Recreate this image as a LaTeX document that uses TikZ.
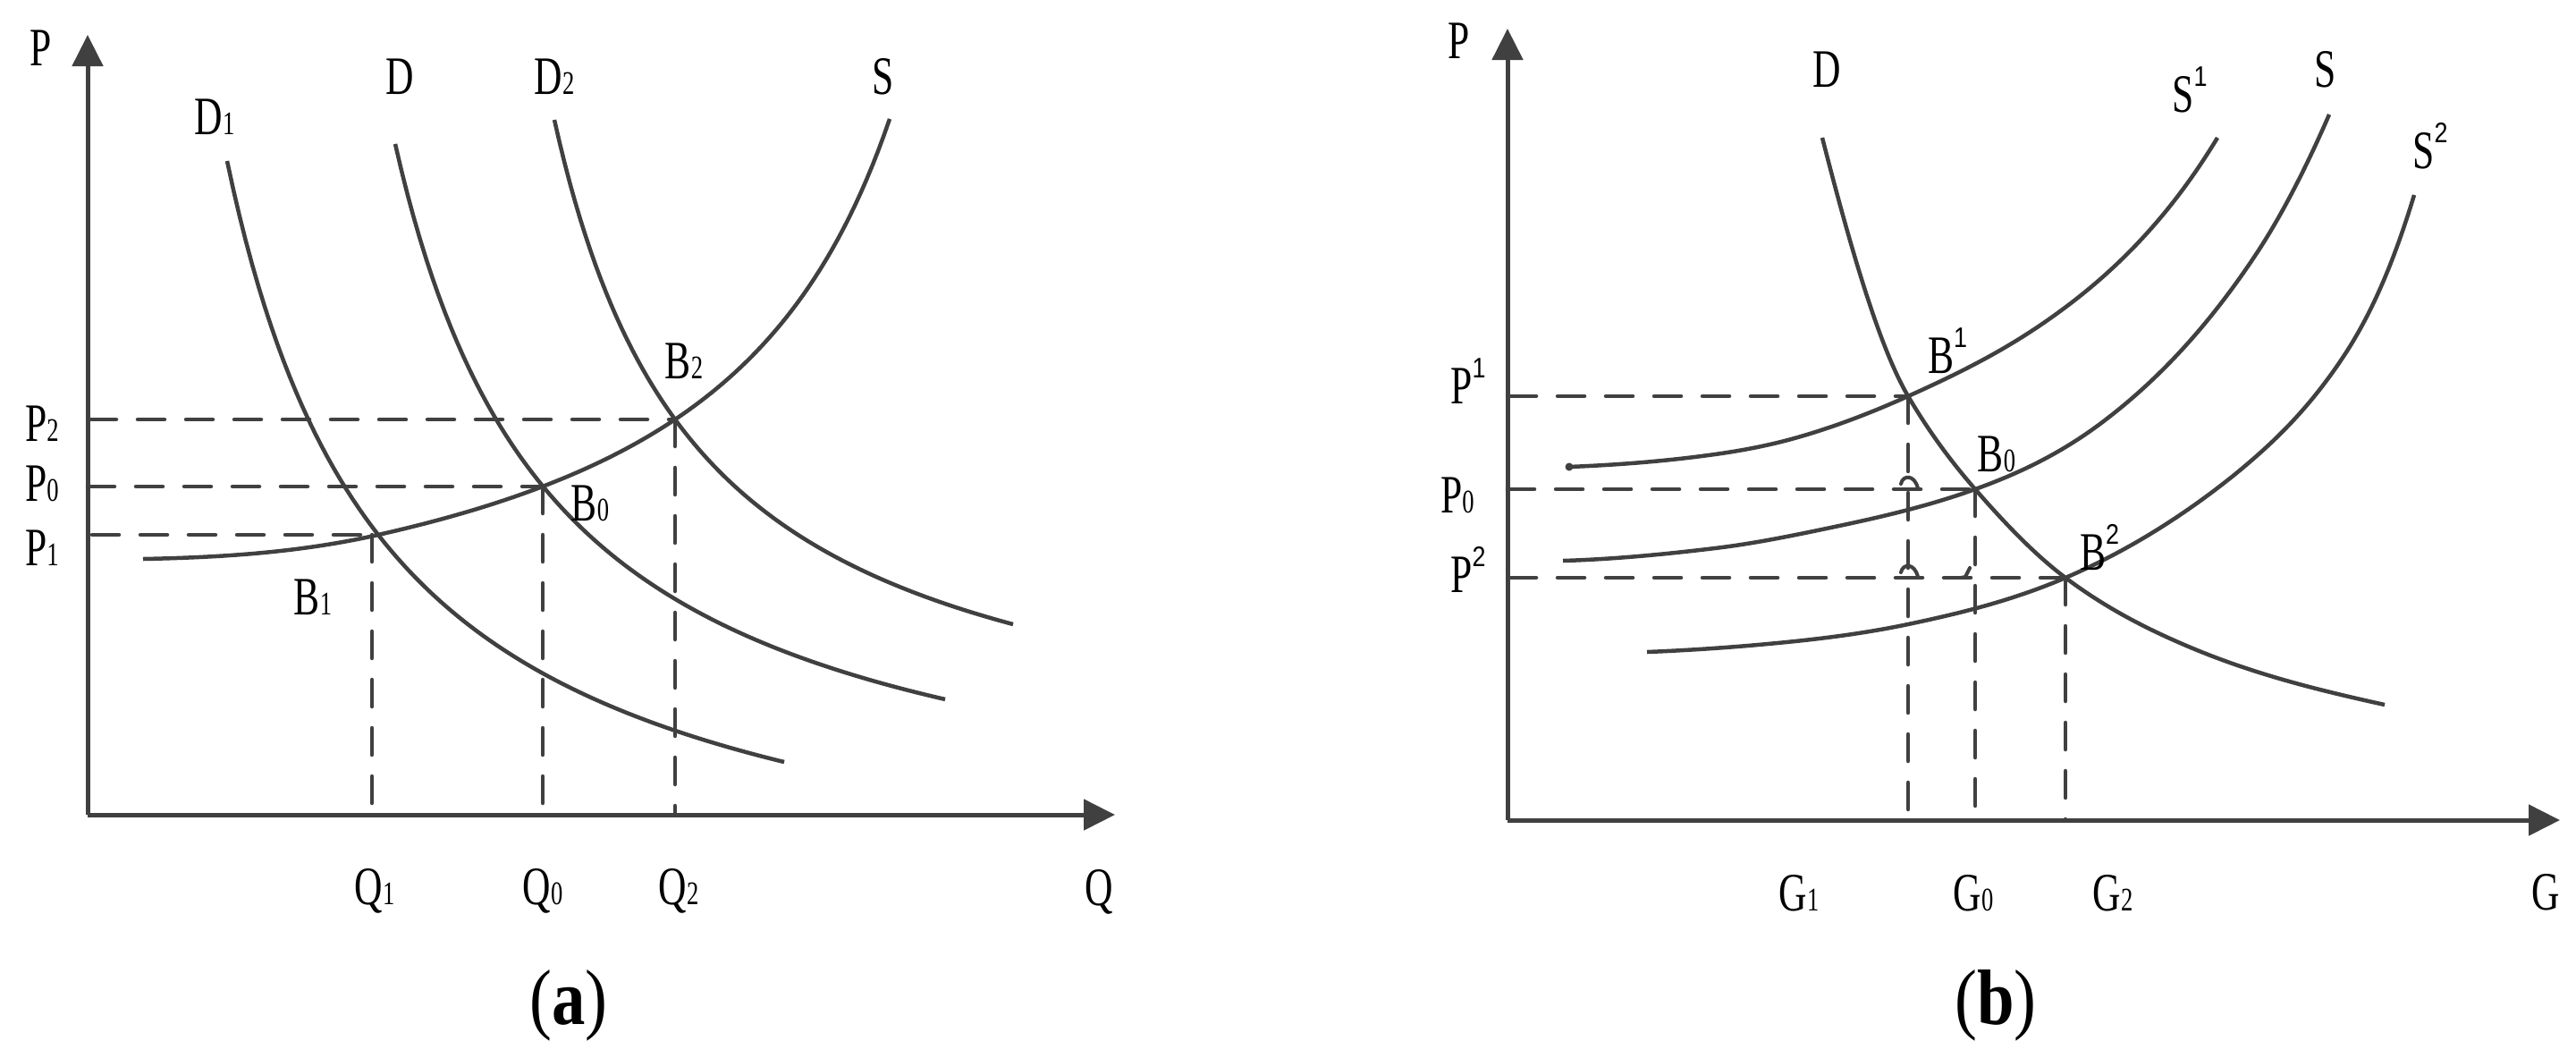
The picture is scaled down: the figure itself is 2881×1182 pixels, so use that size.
\documentclass[tikz,border=0pt]{standalone}
\usepackage{fontspec}
\setmainfont{Liberation Serif}[FakeStretch=0.72]
\newfontfamily\capfont{Liberation Serif}[FakeStretch=0.85]
\newfontfamily\supfont{Liberation Sans}[FakeStretch=0.85]
\usetikzlibrary{arrows.meta}
\definecolor{ln}{HTML}{404040}
\newcommand{\sbd}[1]{{\fontsize{10.5}{12}\selectfont #1}}
\newcommand{\spd}[1]{\raisebox{8pt}{\supfont\fontsize{9}{10}\selectfont #1}}
\begin{document}
\begin{tikzpicture}[x=0.1mm,y=-0.1mm,
  crv/.style={draw=ln,line width=0.45mm},
  axisline/.style={draw=ln,line width=0.5mm,-{Triangle[length=3.5mm,width=3.4mm]}},
  dsh/.style={draw=ln,line width=0.45mm,line cap=round,dash pattern=on 3mm off 2.4mm},
  hook/.style={draw=ln,line width=0.4mm,line cap=round},
  lbl/.style={inner sep=0pt,anchor=base,font=\fontsize{17.2}{20}\selectfont},
  captxt/.style={inner sep=0pt,anchor=base,font=\capfont\fontsize{25}{28}\selectfont}]
\useasboundingbox (0,0) rectangle (2881,1182);

% ---------------- panel (a) ----------------
\coordinate (Oa) at (98,911);
\coordinate (Ya) at (98,39);
\coordinate (Xa) at (1247,911);
\coordinate (aB1) at (423,598);
\coordinate (aB0) at (607,544);
\coordinate (aB2) at (755,469);
\coordinate (aP1) at (103,598);
\coordinate (aP0) at (98,544);
\coordinate (aP2) at (100,469);
\coordinate (aQ1t) at (416,598);
\coordinate (aQ1) at (416,911);
\coordinate (aQ0) at (607,905);
\coordinate (aQ2) at (755,911);

\draw[axisline] (Oa) -- (Ya);
\draw[axisline] (Oa) -- (Xa);

\draw[dsh] (aP2) -- (aB2);
\draw[dsh] (aP0) -- (aB0);
\draw[dsh] (aP1) -- (aQ1t);
\draw[dsh] (aQ1t) -- (aQ1);
\draw[dsh] (aB0) -- (aQ0);
\draw[dsh] (aB2) -- (aQ2);

% supply S
\draw[crv] (160,625) .. controls (247.67,623.25) and (335.33,617.78) .. (aB1)
  -- plot[domain=423:995,samples=90] (\x,{776.6-1414.10/((1214.7-\x)/100)});
% demand D1
\draw[crv] plot[domain=254:877,samples=90] (\x,{1048.4-1581.36/((\x-71.9)/100)});
% demand D
\draw[crv] plot[domain=442:1057,samples=90] (\x,{965.8-1465.62/((\x-259.9)/100)});
% demand D2
\draw[crv] plot[domain=620:1133,samples=90] (\x,{880.2-1236.45/((\x-454.3)/100)});

\node[lbl] (aPl) at (46,73) {P};
\node[lbl] (aQl) at (1229,1012) {Q};
\node[lbl] (aP2l) at (47,493) {P\sbd{2}};
\node[lbl] (aP0l) at (47,560) {P\sbd{0}};
\node[lbl] (aP1l) at (47,632) {P\sbd{1}};
\node[lbl] (aD1l) at (240,150) {D\sbd{1}};
\node[lbl] (aDl) at (447,105) {D};
\node[lbl] (aD2l) at (620,105) {D\sbd{2}};
\node[lbl] (aSl) at (988,105) {S};
\node[lbl] (aB1l) at (350,687) {B\sbd{1}};
\node[lbl] (aB0l) at (660,582) {B\sbd{0}};
\node[lbl] (aB2l) at (765,423) {B\sbd{2}};
\node[lbl] (aQ1l) at (419,1011) {Q\sbd{1}};
\node[lbl] (aQ0l) at (607,1011) {Q\sbd{0}};
\node[lbl] (aQ2l) at (759,1011) {Q\sbd{2}};
\node[captxt] (capa) at (636,1145) {(\textbf{a})};

% ---------------- panel (b) ----------------
\coordinate (Ob) at (1686,917);
\coordinate (Yb) at (1686,32);
\coordinate (Xb) at (2863,917);
\coordinate (bB1) at (2134,443);
\coordinate (bB0) at (2209,547);
\coordinate (bB2) at (2310,646);
\coordinate (bP1) at (1688,443);
\coordinate (bP0) at (1686,547);
\coordinate (bP2) at (1688,646);
\coordinate (bG1) at (2134,917);
\coordinate (bG0) at (2209,905);
\coordinate (bG2) at (2310,917);

\draw[axisline] (Ob) -- (Yb);
\draw[axisline] (Ob) -- (Xb);

\draw[dsh] (bP1) -- (bB1);
\draw[dsh] (bP0) -- (bB0);
\draw[dsh] (bP2) -- (bB2);
\draw[dsh] (bB1) -- (bG1);
\draw[dsh] (bB0) -- (bG0);
\draw[dsh] (bB2) -- (bG2);

% small jump arcs on the dashed lines
\draw[hook] (2126,541) .. controls (2128,531) and (2141,530) .. (2145,546);
\draw[hook] (2126,640) .. controls (2128,630) and (2141,629) .. (2145,645);
\draw[hook] (2193,646) -- (2198,645) -- (2203,635);

% demand D
\draw[crv] (2038,154) .. controls (2070,278.8) and (2102,388.6) .. (bB1)
  .. controls (2159,485.5) and (2184,518.25) .. (bB0)
  .. controls (2242.67,585.7) and (2276.33,620.75) .. (bB2)
  .. controls (2356.67,681) and (2403.33,704.4) .. (2450,724)
  .. controls (2522.33,754.4) and (2594.67,772.1) .. (2667,788);
% supply S1
\draw[crv] (1755,522) .. controls (1809.33,519.83) and (1863.67,515.6) .. (1918,508)
  .. controls (1947.67,503.85) and (1977.33,498.3) .. (2007,490)
  .. controls (2049.33,478.15) and (2091.67,462.05) .. (bB1)
  .. controls (2186,419.6) and (2238,394.4) .. (2290,358)
  .. controls (2326.67,332.33) and (2363.33,302.33) .. (2400,262)
  .. controls (2426.67,232.67) and (2453.33,198) .. (2480,154);
\fill[ln] (1755,522) circle (4.5);
% supply S
\draw[crv] (1748,627) .. controls (1804.67,625.3) and (1861.33,619.8) .. (1918,613)
  .. controls (1962.67,607.64) and (2007.33,598.38) .. (2052,589)
  .. controls (2104.33,578.01) and (2156.67,565.84) .. (bB0)
  .. controls (2256,530.08) and (2303,508.25) .. (2350,473)
  .. controls (2407.33,430) and (2464.67,372) .. (2522,286)
  .. controls (2549.67,244.5) and (2577.33,191.6) .. (2605,128);
% supply S2
\draw[crv] (1842,729) .. controls (1894,726.92) and (1946,723.2) .. (1998,718)
  .. controls (2043.33,713.47) and (2088.67,707.52) .. (2134,698)
  .. controls (2192.67,685.68) and (2251.33,671.23) .. (bB2)
  .. controls (2373.33,618.8) and (2436.67,581.1) .. (2500,530)
  .. controls (2540,497.2) and (2580,460) .. (2620,400)
  .. controls (2646.67,360) and (2673.33,306) .. (2700,218);

\node[lbl] (bPl) at (1632,65) {P};
\node[lbl] (bGl) at (2847,1017) {G};
\node[lbl] (bP1l) at (1642,451) {P\spd{1}};
\node[lbl] (bP0l) at (1630,573) {P\sbd{0}};
\node[lbl] (bP2l) at (1642,662) {P\spd{2}};
\node[lbl] (bDl) at (2043,97) {D};
\node[lbl] (bS1l) at (2449,125) {S\spd{1}};
\node[lbl] (bSl) at (2601,97) {S};
\node[lbl] (bS2l) at (2718,188) {S\spd{2}};
\node[lbl] (bB1l) at (2178,417) {B\spd{1}};
\node[lbl] (bB0l) at (2233,527) {B\sbd{0}};
\node[lbl] (bB2l) at (2348,637) {B\spd{2}};
\node[lbl] (bG1l) at (2012,1018) {G\sbd{1}};
\node[lbl] (bG0l) at (2207,1018) {G\sbd{0}};
\node[lbl] (bG2l) at (2363,1018) {G\sbd{2}};
\node[captxt] (capb) at (2232,1145) {(\textbf{b})};
\end{tikzpicture}
\end{document}
